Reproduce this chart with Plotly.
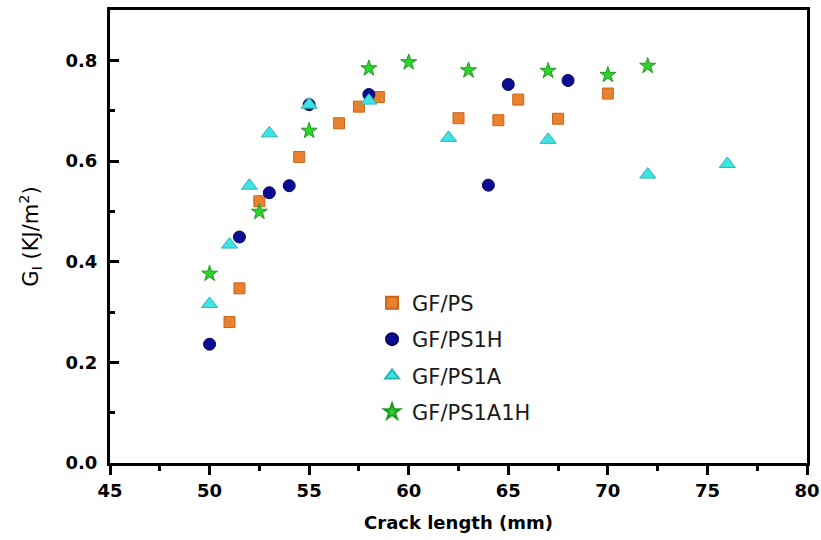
import plotly.graph_objects as go

# Crack length (mm) and mode-I fracture energy G_I (kJ/m^2) per laminate
gf_ps_x = [51, 51.5, 52.5, 54.5, 56.5, 57.5, 58.5, 62.5, 64.5, 65.5, 67.5, 70]
gf_ps_y = [0.28, 0.347, 0.52, 0.608, 0.675, 0.708, 0.727, 0.685, 0.681, 0.722, 0.684, 0.734]

gf_ps1h_x = [50, 51.5, 53, 54, 55, 58, 64, 65, 68]
gf_ps1h_y = [0.236, 0.449, 0.537, 0.551, 0.712, 0.732, 0.552, 0.752, 0.76]

gf_ps1a_x = [50, 51, 52, 53, 55, 58, 62, 67, 72, 76]
gf_ps1a_y = [0.316, 0.434, 0.551, 0.655, 0.712, 0.72, 0.646, 0.642, 0.573, 0.594]

gf_ps1a1h_x = [50, 52.5, 55, 58, 60, 63, 67, 70, 72]
gf_ps1a1h_y = [0.376, 0.499, 0.66, 0.784, 0.796, 0.78, 0.779, 0.771, 0.789]

series = [
    ("GF/PS", gf_ps_x, gf_ps_y, "square", 11, "#E9822F", "#C9651A"),
    ("GF/PS1H", gf_ps1h_x, gf_ps1h_y, "circle", 12, "#0B0B96", "#05055E"),
    ("GF/PS1A", gf_ps1a_x, gf_ps1a_y, "triangle-up", 14, "#3EE3E3", "#2BB5B5"),
    ("GF/PS1A1H", gf_ps1a1h_x, gf_ps1a1h_y, "star", 12, "#2ED12E", "#1E9A1E"),
]

fig = go.Figure()
for i, (name, xs, ys, sym, size, fill, edge) in enumerate(series):
    fig.add_trace(go.Scatter(
        x=xs, y=ys, mode="markers", name=name,
        legendgroup=f"g{i}",
        marker=dict(symbol=sym, size=size, color=fill,
                    line=dict(color=edge, width=1)),
    ))

tick_font = dict(family="DejaVu Sans", size=18, color="black", weight="bold")

fig.update_layout(
    width=821, height=540,
    margin=dict(l=110, r=14, t=10, b=77, autoexpand=False),
    paper_bgcolor="white", plot_bgcolor="white",
    showlegend=True,
    legend=dict(
        x=0.376, y=0.398, xanchor="left", yanchor="top",
        bgcolor="rgba(0,0,0,0)", borderwidth=0,
        font=dict(family="DejaVu Sans", size=21, color="#1a1a1a"),
        tracegroupgap=6, itemsizing="constant",
    ),
    xaxis=dict(
        range=[45, 80], dtick=5, tick0=45, automargin=False,
        ticklabeloverflow="allow",
        showline=True, linecolor="black", linewidth=3, mirror=True,
        ticks="outside", ticklen=9, tickwidth=3, tickcolor="black",
        minor=dict(dtick=2.5, ticks="outside", ticklen=5, tickwidth=3, tickcolor="black"),
        showgrid=False, zeroline=False,
        tickfont=tick_font,
        title=dict(text="Crack length (mm)", standoff=17,
                   font=dict(family="DejaVu Sans", size=18, color="black", weight="bold")),
    ),
    yaxis=dict(
        range=[0, 0.9], dtick=0.2, tick0=0, tickformat=".1f", automargin=False,
        showline=True, linecolor="black", linewidth=3, mirror=True,
        ticks="inside", ticklen=9, tickwidth=3, tickcolor="black",
        minor=dict(dtick=0.1, ticks="inside", ticklen=5, tickwidth=3, tickcolor="black"),
        showgrid=False, zeroline=False,
        tickfont=tick_font, ticklabelstandoff=6,
        title=dict(text="G<sub>I</sub> (KJ/m<sup>2</sup>)", standoff=22,
                   font=dict(family="DejaVu Sans", size=21, color="black")),
    ),
)

fig.write_html("out.html")
